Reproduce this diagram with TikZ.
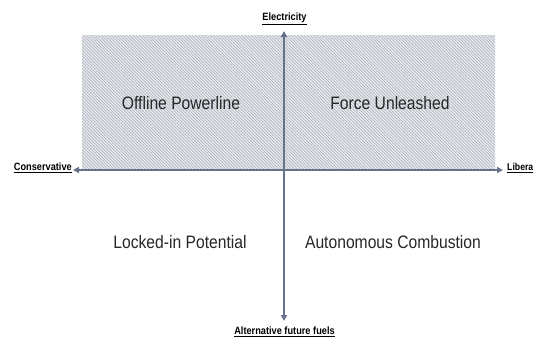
\documentclass[tikz,border=0pt]{standalone}
\usepackage{fontspec}
\setmainfont{Liberation Sans}
\newfontfamily\narrowfont[FakeStretch=0.87]{Liberation Sans}
\usetikzlibrary{arrows.meta,patterns.meta}
\definecolor{axiscol}{HTML}{68718A}
\definecolor{hatchbg}{HTML}{E8EAEE}
\definecolor{hatchln}{HTML}{B0B5C0}
\definecolor{txtcol}{HTML}{262626}
\tikzset{
  quadtext/.style={font=\narrowfont\fontsize{18}{20}\selectfont, text=txtcol, inner sep=0pt},
  axislabel/.style={font=\narrowfont\bfseries\fontsize{10.6}{12}\selectfont, text=black, inner sep=0pt},
  axisline/.style={draw=axiscol, line width=1.8pt, {Triangle[length=6pt,width=6pt]}-{Triangle[length=6pt,width=6pt]}},
}
\begin{document}
\begin{tikzpicture}[x=1pt,y=-1pt]
\useasboundingbox (0,0) rectangle (535,338);
\clip (0,0) rectangle (535,338);
% hatched upper area
\fill[hatchbg] (82,35) rectangle (495,170);
\fill[pattern={Lines[angle=-45,distance=2.2pt,line width=0.7pt]}, pattern color=hatchln] (82,35) rectangle (495,170);
% axis end points
\coordinate (top) at (284,31);
\coordinate (bottom) at (284,321);
\coordinate (left) at (73,170);
\coordinate (right) at (503,170);
\draw[axisline] (bottom) -- (top);
\draw[axisline] (left) -- (right);
% axis labels
\node[axislabel] (elec) at (284.5,18.5) {\underline{Electricity}};
\node[axislabel, anchor=east] (cons) at (72,168) {\underline{Conservative}};
\node[axislabel, anchor=west, font=\narrowfont\bfseries\fontsize{10}{12}\selectfont] (lib) at (507,168) {\underline{Libera}};
\node[axislabel] (alt) at (284.5,331.5) {\underline{Alternative future fuels}};
% quadrant labels
\node[quadtext] (q1) at (181,103) {Offline Powerline};
\node[quadtext] (q2) at (390,103) {Force Unleashed};
\node[quadtext] (q3) at (180,242) {Locked-in Potential};
\node[quadtext] (q4) at (393,242) {Autonomous Combustion};
\end{tikzpicture}
\end{document}
